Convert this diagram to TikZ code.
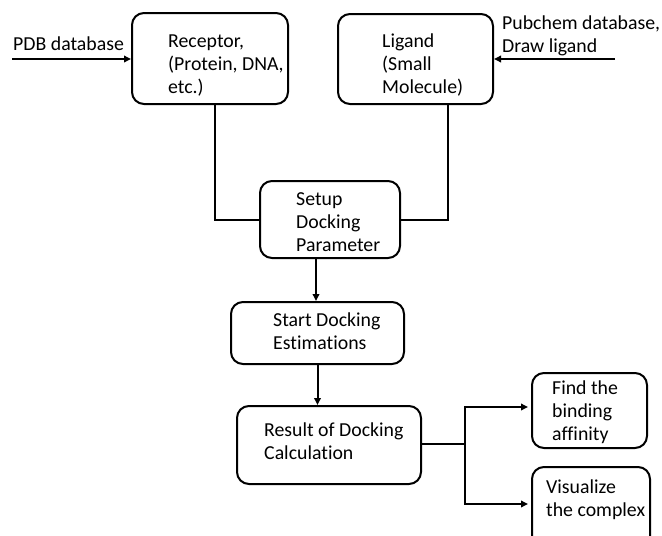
\documentclass[tikz,border=0pt]{standalone}
\usepackage{fontspec}
\setmainfont{Carlito}[Ligatures=NoCommon]
\usetikzlibrary{arrows.meta}
\begin{document}
\begin{tikzpicture}[x=1pt,y=-1pt,
  box/.style={draw=black, line width=2pt, rounded corners=12pt, inner sep=0pt},
  txt/.style={inner sep=0pt, align=left, anchor=west, font=\fontsize{19.8}{23}\selectfont},
  conn/.style={line width=2pt},
  arr/.style={line width=2pt, -{Triangle[length=7pt,width=6.5pt]}}]
\useasboundingbox (0,0) rectangle (662,536);
\clip (0,0) rectangle (662,536);
% boxes
\node[box, minimum width=156pt, minimum height=91pt] (r) at (210,58.5) {};
\node[box, minimum width=155pt, minimum height=90pt] (l) at (415.5,59) {};
\node[box, minimum width=140pt, minimum height=77pt] (s) at (330,219.5) {};
\node[box, minimum width=173pt, minimum height=62pt] (st) at (317.5,333) {};
\node[box, minimum width=184pt, minimum height=78pt] (res) at (329,445) {};
\node[box, minimum width=115pt, minimum height=75pt] (f) at (589.5,410.5) {};
\node[box, minimum width=118pt, minimum height=82pt] (v) at (591,508) {};
% texts
\node[txt] (rt) at (168,66) {Receptor,\\(Protein, DNA,\\etc.)};
\node[txt] (lt) at (382,65) {Ligand\\(Small\\Molecule)};
\node[txt] (stx) at (296,222) {Setup\\Docking\\Parameter};
\node[txt] (stt) at (273,331.5) {Start Docking\\Estimations};
\node[txt] (rest) at (264,441) {Result of Docking\\Calculation};
\node[txt] (ft) at (552,412) {Find the\\binding\\affinity};
\node[txt] (vt) at (546,500) {Visualize\\the complex};
\node[txt] (pdb) at (13,44) {PDB database};
\node[txt] (pub) at (502,36) {Pubchem database,\\Draw ligand};
% free ends
\coordinate (pdbs) at (12,59);
\coordinate (pubs) at (615,59);
\coordinate (j) at (465,444);
% connectors
\draw[arr] (pdbs) -- (pdbs -| r.west);
\draw[arr] (pubs) -- (pubs -| l.east);
\draw[conn] ([xshift=5pt]r.south) |- (s.west);
\draw[conn] ([xshift=32.5pt]l.south) |- (s.east);
\draw[arr] ([xshift=-14pt]s.south) -- ([xshift=-14pt]s.south |- st.north);
\draw[arr] (st.south) -- (st.south |- res.north);
\draw[conn] (res.east |- j) -- (j);
\draw[arr] (j) |- ([yshift=3.5pt,xshift=-3pt]f.west);
\draw[arr] (j) |- ([yshift=4pt,xshift=-3pt]v.west);
\end{tikzpicture}
\end{document}
